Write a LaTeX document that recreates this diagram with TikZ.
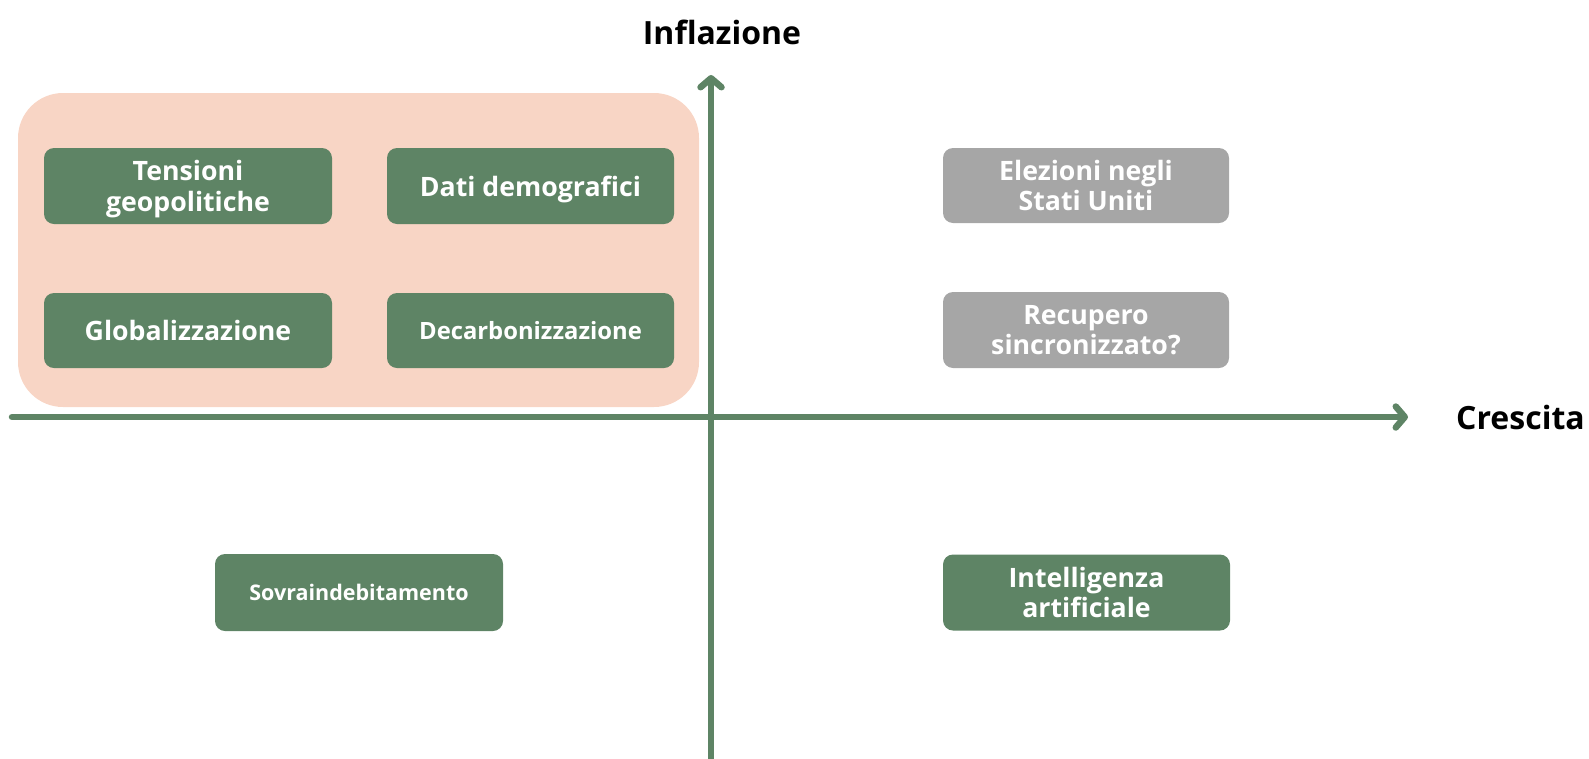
\documentclass[tikz,border=0pt]{standalone}
\usepackage{fontspec}
\setmainfont{Open Sans}
\usetikzlibrary{arrows.meta}
\definecolor{boxgreen}{RGB}{94,132,101}
\definecolor{boxgray}{RGB}{166,166,166}
\definecolor{zonepink}{RGB}{248,213,197}
\tikzset{
  qbox/.style={fill=boxgreen, rounded corners=10pt, text=white, align=center,
    font=\bfseries\fontsize{26.7}{30.5}\selectfont, inner sep=0pt, text depth=0pt},
  graybox/.style={qbox, fill=boxgray},
  axisline/.style={draw=boxgreen, line width=6.5pt, line cap=round,
    -{Straight Barb[length=9pt,width=21pt,round]}},
  axislabel/.style={font=\bfseries\fontsize{32}{36}\selectfont, text=black, inner sep=0pt}
}
\begin{document}
\begin{tikzpicture}[x=1pt,y=-1pt]
\useasboundingbox (0,0) rectangle (1589,758);
\node[fill=zonepink, rounded corners=45pt, minimum width=681pt, minimum height=314pt, inner sep=0pt] (zone) at (358.5,250) {};
\node[qbox, minimum width=288pt, minimum height=76pt] (tens) at (188,186) {Tensioni\\geopolitiche};
\node[qbox, minimum width=287pt, minimum height=76pt] (dati) at (530.5,186) {Dati demografici};
\node[qbox, minimum width=288pt, minimum height=75pt] (glob) at (188,330.5) {Globalizzazione};
\node[qbox, minimum width=287pt, minimum height=75pt, font=\bfseries\fontsize{23.8}{28}\selectfont] (deca) at (530.5,330.5) {Decarbonizzazione};
\node[graybox, minimum width=286pt, minimum height=75pt] (elez) at (1086,185.5) {Elezioni negli\\Stati Uniti};
\node[graybox, minimum width=286pt, minimum height=76pt] (recu) at (1086,330) {Recupero\\sincronizzato?};
\node[qbox, minimum width=288pt, minimum height=77pt, font=\bfseries\fontsize{21.5}{26}\selectfont] (sovr) at (359,592.5) {Sovraindebitamento};
\node[qbox, minimum width=287pt, minimum height=76pt] (inte) at (1086.5,592.5) {Intelligenza\\artificiale};
\coordinate (ybot) at (711,762);
\coordinate (ytop) at (711,75);
\coordinate (xleft) at (12,417);
\coordinate (xright) at (1408,417);
\draw[axisline] (ybot) -- (ytop);
\draw[axisline] (xleft) -- (xright);
\node[axislabel] (infl) at (722,32) {Inflazione};
\node[axislabel, anchor=west] (cres) at (1456,417) {Crescita};
\end{tikzpicture}
\end{document}
